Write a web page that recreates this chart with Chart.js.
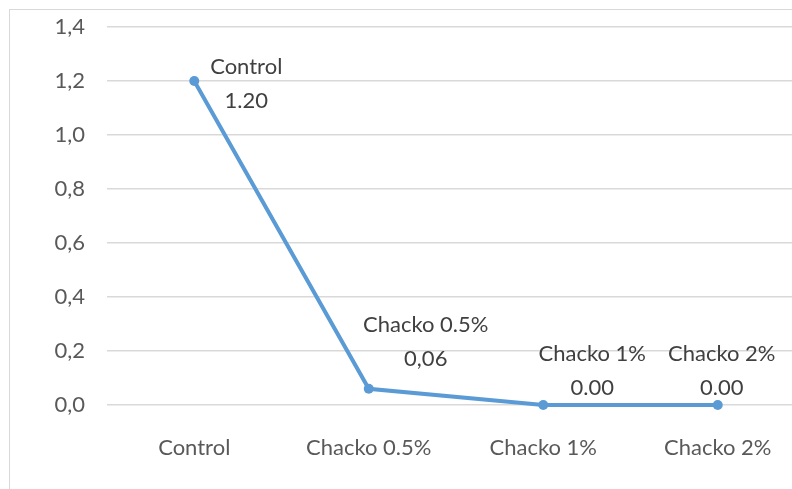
<!DOCTYPE html>
<html>
<head>
<meta charset="utf-8">
<script src="https://cdn.jsdelivr.net/npm/chart.js@4"></script>
<style>
  html, body { margin: 0; padding: 0; background: #fff; overflow: hidden; }
  #frame { position: absolute; left: 9px; top: 9px; width: 820px; height: 500px;
           border-left: 1px solid #d9d9d9; border-top: 1px solid #d9d9d9; }
  canvas { display: block; }
</style>
</head>
<body>
<div id="frame"><canvas id="chart" width="800" height="479"></canvas></div>
<script>
// data
const categories = ['Control', 'Chacko 0.5%', 'Chacko 1%', 'Chacko 2%'];
const values = [1.20, 0.06, 0.00, 0.00];
const valueLabels = ['1.20', '0,06', '0.00', '0.00'];
const yTicks = [0, 0.2, 0.4, 0.6, 0.8, 1.0, 1.2, 1.4];

// label offsets from the point (first line centre)
const labelOffsets = [[52, -14], [57, -64], [49, -51], [4, -51]];

const pointLabels = {
    id: 'pointLabels',
    afterDatasetsDraw(chart) {
        const ctx = chart.ctx;
        const meta = chart.getDatasetMeta(0);
        ctx.save();
        ctx.font = "22px Lato";
        ctx.fillStyle = '#404040';
        ctx.textAlign = 'center';
        ctx.textBaseline = 'middle';
        meta.data.forEach((pt, i) => {
            const [dx, dy] = labelOffsets[i];
            ctx.fillText(categories[i], pt.x + dx, pt.y + dy);
            ctx.fillText(valueLabels[i], pt.x + dx, pt.y + dy + 34);
        });
        ctx.restore();
    }
};

new Chart(document.getElementById('chart'), {
    type: 'line',
    data: {
        labels: categories,
        datasets: [{
            data: values,
            borderColor: '#5b9bd5',
            backgroundColor: '#5b9bd5',
            borderWidth: 4,
            pointRadius: 5,
            pointBorderWidth: 0,
            pointBackgroundColor: '#5b9bd5',
            tension: 0,
            clip: false
        }]
    },
    options: {
        responsive: false,
        animation: false,
        layout: { autoPadding: false, padding: { top: 17, right: 5, left: 0, bottom: 0 } },
        plugins: { legend: { display: false }, title: { display: false }, tooltip: { enabled: false } },
        scales: {
            x: {
                offset: true,
                grid: { display: false },
                border: { display: false },
                ticks: { color: '#595959', font: { family: 'Lato', size: 22 }, padding: 22 },
                afterFit(scale) {
                    scale.height = 84;
                    scale.paddingTop = 0; scale.paddingBottom = 0;
                }
            },
            y: {
                min: 0,
                max: 1.4,
                afterBuildTicks(scale) { scale.ticks = yTicks.map(v => ({ value: v })); },
                grid: { color: '#d9d9d9', lineWidth: 1.5, drawTicks: false },
                border: { display: false },
                ticks: {
                    color: '#595959',
                    font: { family: 'Lato', size: 22 },
                    padding: 22,
                    callback: v => v.toFixed(1).replace('.', ',')
                },
                afterFit(scale) {
                    scale.width = 97;
                    scale.paddingTop = 0; scale.paddingBottom = 0;
                }
            }
        }
    },
    plugins: [pointLabels]
});
</script>
</body>
</html>
